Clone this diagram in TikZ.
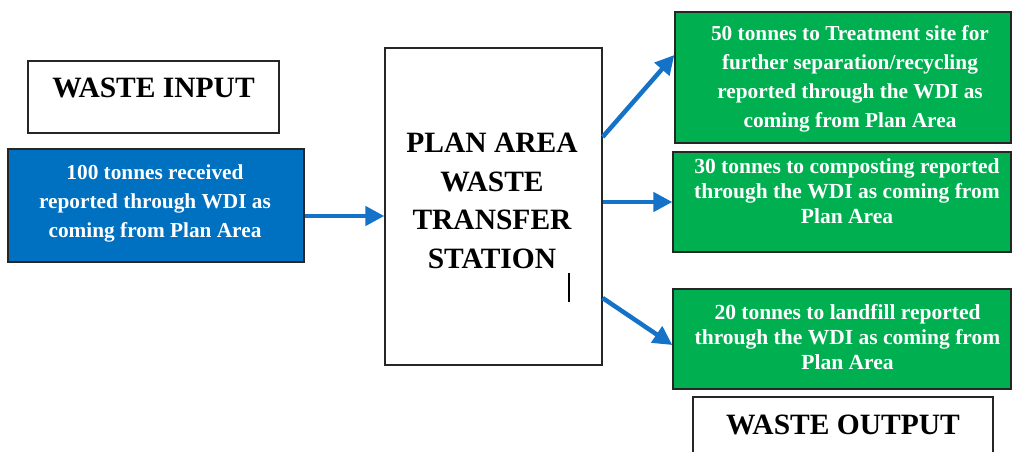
\documentclass[tikz,border=0pt]{standalone}
\usepackage{fontspec}
\setmainfont{Liberation Serif}
\usetikzlibrary{arrows.meta}
\definecolor{boxblue}{HTML}{0070C0}
\definecolor{arrowblue}{HTML}{1473C8}
\definecolor{boxgreen}{HTML}{00B050}
\tikzset{
  frame/.style={draw=black!85, line width=1.3pt, inner sep=0pt, rectangle},
  whitebox/.style={frame, fill=white},
  bluebox/.style={frame, fill=boxblue},
  greenbox/.style={frame, fill=boxgreen},
  bigtxt/.style={font=\fontsize{29.5}{38.5}\selectfont\bfseries, text=black, align=center, inner sep=0pt},
  smalltxt/.style={font=\fontsize{21.3}{29}\selectfont\bfseries, text=white, align=center, inner sep=0pt},
  tighttxt/.style={font=\fontsize{21.5}{25}\selectfont\bfseries, text=white, align=center, inner sep=0pt},
  flow/.style={draw=arrowblue, line width=4.5pt, -{Triangle[length=19pt,width=19pt]}},
}
\begin{document}
\begin{tikzpicture}[x=1pt,y=-1pt]
\clip (0,0) rectangle (1012,452);
\fill[white] (0,0) rectangle (1012,452);
% boxes
\node[whitebox, minimum width=251pt, minimum height=72pt] (win) at (153.5,97) {};
\node[bluebox, minimum width=296pt, minimum height=113pt] (inb) at (156,205.5) {};
\node[whitebox, minimum width=217pt, minimum height=317pt] (ctr) at (493.5,206.5) {};
\node[greenbox, minimum width=336pt, minimum height=131pt] (g1) at (843,77.5) {};
\node[greenbox, minimum width=338pt, minimum height=100pt] (g2) at (842,202) {};
\node[greenbox, minimum width=338pt, minimum height=100pt] (g3) at (842,339) {};
\node[whitebox, minimum width=300pt, minimum height=90pt] (wout) at (843,442) {};
% texts
\node[bigtxt] (wintxt) at (153.5,88) {WASTE INPUT};
\node[smalltxt] (inbtxt) at (155,203) {100 tonnes received\\reported through WDI as\\coming from Plan Area};
\node[bigtxt] (ctrtxt) at (492,201) {PLAN AREA\\WASTE\\TRANSFER\\STATION};
\node[smalltxt] (g1txt) at (850,79) {50 tonnes to Treatment site for\\further separation/recycling\\reported through the WDI as\\coming from Plan Area};
\node[tighttxt] (g2txt) at (847,191) {30 tonnes to composting reported\\through the WDI as coming from\\Plan Area};
\node[tighttxt] (g3txt) at (847.5,337.5) {20 tonnes to landfill reported\\through the WDI as coming from\\Plan Area};
\node[bigtxt] (wouttxt) at (843,425) {WASTE OUTPUT};
% cursor mark
\coordinate (cur1) at (569,273);
\coordinate (cur2) at (569,302);
\draw[line width=1.2pt, black] (cur1) -- (cur2);
% arrows
\draw[flow] ([yshift=-10.5pt]inb.east) -- ([yshift=-9.5pt]ctr.west);
\draw[flow] ([yshift=69.5pt]ctr.east) -- ([yshift=22.5pt]g1.west);
\draw[flow] ([yshift=4.5pt]ctr.east) -- (g2.west);
\draw[flow] ([yshift=-91.5pt]ctr.east) -- ([yshift=-6pt]g3.west);
\end{tikzpicture}
\end{document}
